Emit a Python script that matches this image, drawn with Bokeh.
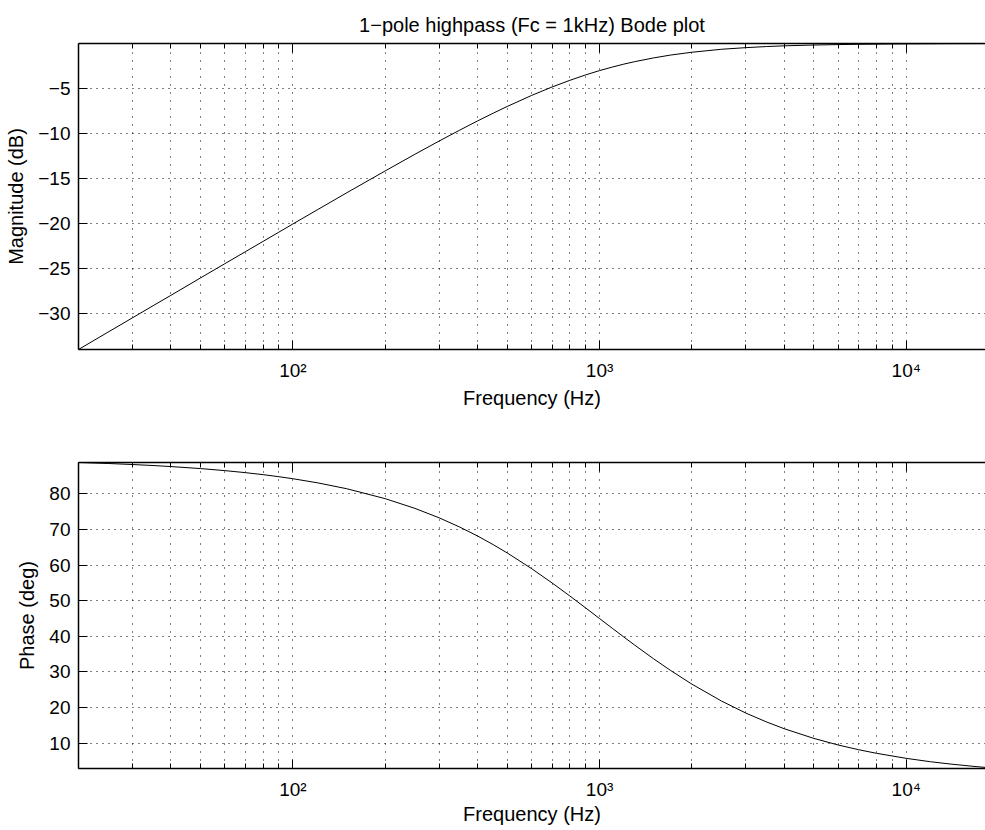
from bokeh.plotting import figure
from bokeh.models import Range1d, FixedTicker, LogAxis
from bokeh.layouts import column
from bokeh.embed import file_html
from bokeh.resources import INLINE

# ---- data ----
freq_hz = [20, 25, 30, 35, 40, 50, 60, 70, 80, 90, 100, 120, 150, 200, 250, 300,
           350, 400, 450, 500, 600, 700, 800, 900, 1000, 1100, 1200, 1300, 1500,
           1700, 2000, 2500, 3000, 3500, 4000, 5000, 6000, 7000, 8000, 10000,
           12000, 14000, 17000, 20000]
magnitude_db = [-33.98, -32.04, -30.46, -29.12, -27.97, -26.03, -24.45, -23.12,
                -21.97, -20.95, -20.04, -18.48, -16.57, -14.15, -12.30, -10.83,
                -9.62, -8.60, -7.74, -6.99, -5.77, -4.83, -4.09, -3.49, -3.01,
                -2.62, -2.29, -2.02, -1.60, -1.29, -0.97, -0.64, -0.46, -0.34,
                -0.26, -0.17, -0.12, -0.09, -0.07, -0.04, -0.03, -0.02, -0.015,
                -0.01]
phase_deg = [88.85, 88.57, 88.28, 88.00, 87.71, 87.14, 86.57, 86.00, 85.43, 84.86,
             84.29, 83.16, 81.47, 78.69, 75.96, 73.30, 70.71, 68.20, 65.77, 63.43,
             59.04, 55.01, 51.34, 48.01, 45.00, 42.27, 39.81, 37.57, 33.69, 30.47,
             26.57, 21.80, 18.43, 15.95, 14.04, 11.31, 9.46, 8.13, 7.13, 5.71,
             4.76, 4.09, 3.37, 2.86]

x_major_ticks = [100, 1000, 10000]
x_minor_ticks = [20, 30, 40, 50, 60, 70, 80, 90,
                 200, 300, 400, 500, 600, 700, 800, 900,
                 2000, 3000, 4000, 5000, 6000, 7000, 8000, 9000, 20000]
x_tick_labels = {100: "10\u00b2", 1000: "10\u00b3", 10000: "10\u2074"}
mag_ticks = [-30, -25, -20, -15, -10, -5]
phase_ticks = [10, 20, 30, 40, 50, 60, 70, 80]
title_text = "1\u2212pole highpass (Fc = 1kHz) Bode plot"
x_label = "Frequency (Hz)"
mag_label = "Magnitude (dB)"
phase_label = "Phase (deg)"

FONT = "Liberation Sans"
TICK_SIZE = "19px"
LABEL_SIZE = "20px"


def make_fig(yvals, y_start, y_end, yticks, ylabel, height, top_b, bottom_b,
             xlabel_standoff):
    p = figure(width=985, height=height, x_axis_type="log",
               x_range=Range1d(20, 18130), y_range=Range1d(y_start, y_end),
               output_backend="svg", toolbar_location=None,
               min_border_left=78, min_border_right=0,
               min_border_top=top_b, min_border_bottom=bottom_b)
    p.outline_line_color = None
    p.background_fill_color = "white"
    p.border_fill_color = "white"

    xt = FixedTicker(ticks=x_major_ticks, minor_ticks=x_minor_ticks)
    yt = FixedTicker(ticks=yticks)

    xa = p.xaxis[0]
    xa.ticker = xt
    xa.major_label_overrides = x_tick_labels
    xa.axis_label = x_label
    ya = p.yaxis[0]
    ya.ticker = yt
    ya.major_label_overrides = {t: str(t).replace("-", "\u2212") for t in yticks}
    ya.axis_label = ylabel

    for ax in (xa, ya):
        ax.axis_line_color = "black"
        ax.axis_line_width = 1.5
        ax.major_tick_line_color = "black"
        ax.minor_tick_line_color = "black"
        ax.major_tick_in = 9
        ax.major_tick_out = 0
        ax.minor_tick_in = 5
        ax.minor_tick_out = 0
        ax.major_label_text_font = FONT
        ax.major_label_text_font_size = TICK_SIZE
        ax.major_label_text_color = "black"
        ax.axis_label_text_font = FONT
        ax.axis_label_text_font_size = LABEL_SIZE
        ax.axis_label_text_font_style = "normal"
        ax.axis_label_text_color = "black"
    xa.major_label_standoff = 10
    xa.axis_label_standoff = xlabel_standoff
    ya.major_label_standoff = 8
    ya.axis_label_standoff = 8

    top = LogAxis(ticker=xt, major_label_text_font_size="1px",
                  major_label_text_alpha=0.0,
                  major_label_standoff=0, axis_line_color="black",
                  axis_line_width=1.5, major_tick_in=9, major_tick_out=0,
                  minor_tick_in=5, minor_tick_out=0,
                  major_tick_line_color="black", minor_tick_line_color="black")
    p.add_layout(top, "above")

    p.xgrid.ticker = xt
    p.xgrid.grid_line_color = "black"
    p.xgrid.grid_line_dash = "1 7"
    p.xgrid.minor_grid_line_color = "black"
    p.xgrid.minor_grid_line_dash = "1 7"
    p.ygrid.ticker = yt
    p.ygrid.grid_line_color = "black"
    p.ygrid.grid_line_dash = "1 5"

    p.line(freq_hz, yvals, line_color="black", line_width=1)
    return p


p1 = make_fig(magnitude_db, -33.98, 0.0, mag_ticks, mag_label, 415, 43, 66, 3)
p1.title.text = title_text
p1.title.align = "center"
p1.title.text_font = FONT
p1.title.text_font_size = LABEL_SIZE
p1.title.text_font_style = "normal"
p1.title.text_color = "black"
p1.title.standoff = 16

p2 = make_fig(phase_deg, 2.86, 88.85, phase_ticks, phase_label, 415, 47, 62, 0)

layout = column(p1, p2, spacing=0)
open("out.html", "w").write(file_html(layout, INLINE))
